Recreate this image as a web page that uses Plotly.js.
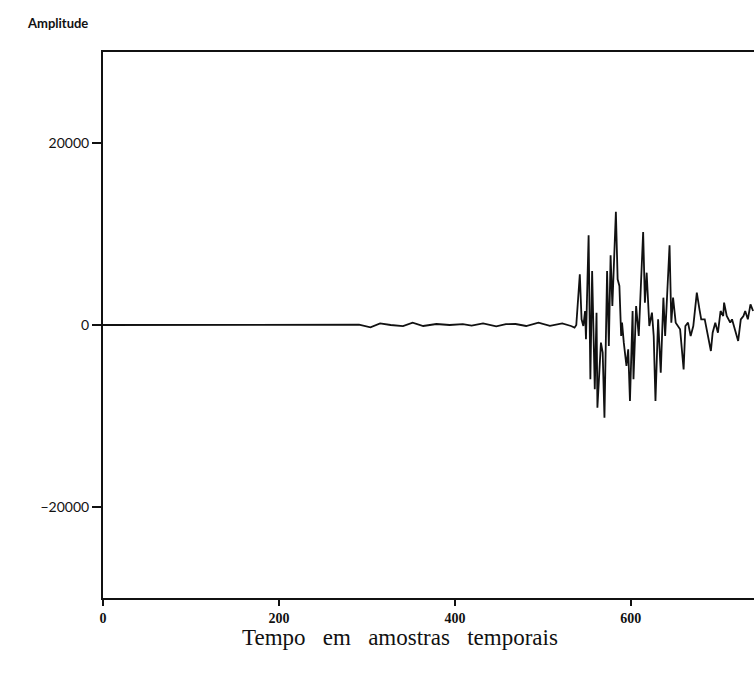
<!DOCTYPE html>
<html><head><meta charset="utf-8">
<script src="https://cdn.plot.ly/plotly-3.0.1.min.js"></script>
<style>html,body{margin:0;padding:0;background:#fff;overflow:hidden}#c{width:754px;height:677px}</style>
</head><body><div id="c"></div>
<script>
// Sample index (time in samples)
const samples = [0,102,205,276,291,304,315,327,341,352,364,379,394,409,419,432,447,458,469,481,495,508,522,532,536,538,
542,544,546,548,549,552,554,556,559,561,562,566,568,570,573,575,577,579,583,585,587,589,590,592,595,597,599,602,603,606,609,614,616,618,621,624,626,628,631,634,637,639,644,646,648,651,656,660,662,665,668,671,675,678,680,684,688,691,693,696,699,702,705,706,709,713,715,718,722,725,728,730,733,736,739];
// Amplitude values
const amplitude = [0,0,0,0,30,-256,183,0,-120,256,-110,110,0,90,-60,183,-150,100,110,-110,256,-100,180,-110,-290,0,
5568,623,-110,1538,-1575,9853,-5971,5934,-7070,1355,-9084,-1941,-3040,-10183,5934,-2308,7656,2088,12454,5018,4286,-1209,256,-1941,-4505,-2674,-8352,1538,-5971,2088,-1209,10220,2454,5751,-110,1355,-1209,-8352,623,-5238,3004,-1209,8755,256,3004,256,-476,-4872,-110,256,-1209,-110,3553,1722,623,623,-1575,-2857,-842,256,-842,1538,989,2454,989,256,623,-476,-1758,623,989,1538,623,2271,1538];
const xTicks = [0,200,400,600];
const yTicks = [-20000,0,20000];

const trace = {x: samples, y: amplitude, type:'scatter', mode:'lines',
  line:{color:'#111', width:1.8}, hoverinfo:'skip'};

const layout = {
  width:754, height:677,
  margin:{l:103, r:0, t:52, b:79},
  paper_bgcolor:'#fff', plot_bgcolor:'#fff',
  showlegend:false,
  xaxis:{range:[0,740], showgrid:false, zeroline:false, showline:true, linecolor:'#111', linewidth:2, mirror:true,
    tickmode:'array', tickvals:xTicks, ticks:'outside', ticklen:6, tickwidth:1.5, tickcolor:'#111',
    tickfont:{family:'Liberation Serif', size:14, color:'#111', weight:'bold'}},
  yaxis:{range:[-30000,30000], showgrid:false, zeroline:false, showline:true, linecolor:'#111', linewidth:2, mirror:false,
    tickmode:'array', tickvals:yTicks, tickformat:'d', ticks:'outside', ticklen:9, tickwidth:1.5, tickcolor:'#111',
    tickfont:{family:'Lato', size:14, color:'#111'}},
  annotations:[
    {text:'<b>Amplitude</b>', xref:'paper', yref:'paper', x:-0.12, y:1.035, xanchor:'left', yanchor:'bottom', showarrow:false,
     font:{family:'Lato', size:13, color:'#111'}},
    {text:'Tempo\u00a0\u00a0\u00a0em\u00a0\u00a0\u00a0amostras\u00a0\u00a0\u00a0temporais', xref:'paper', yref:'paper', x:0.456, y:-0.046, xanchor:'center', yanchor:'top', showarrow:false,
     font:{family:'Liberation Serif', size:23, color:'#111'}}
  ]
};
Plotly.newPlot('c',[trace],layout,{displayModeBar:false,staticPlot:true});
</script></body></html>
